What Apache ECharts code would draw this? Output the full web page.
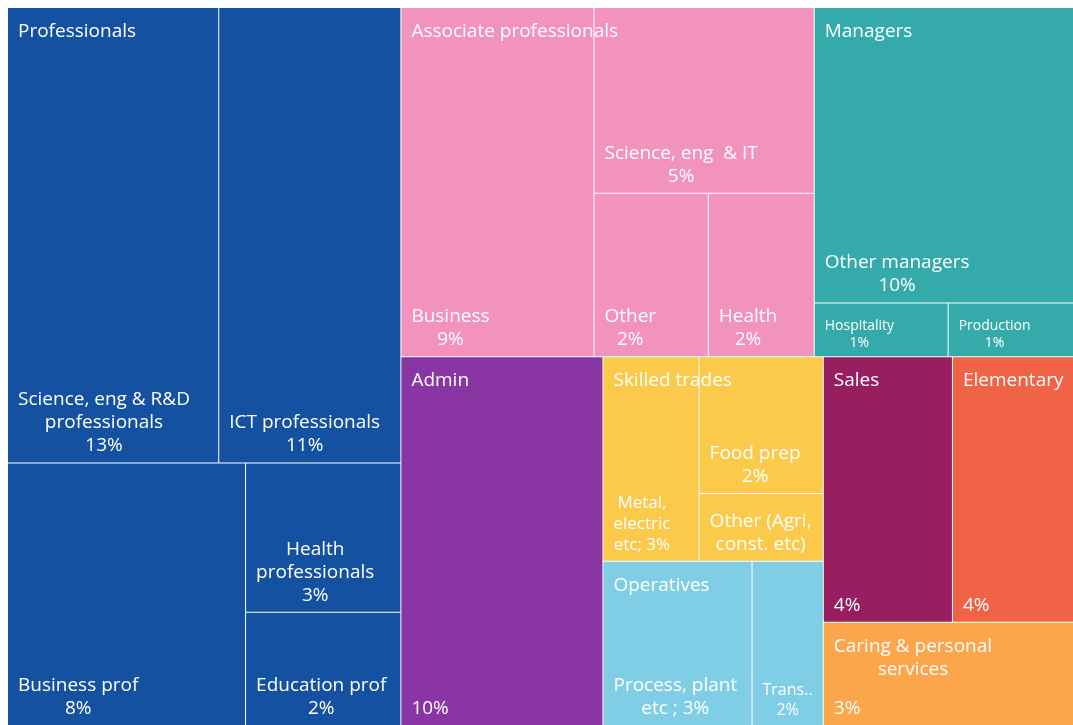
<!DOCTYPE html>
<html lang="en">
<head>
<meta charset="utf-8">
<title>Jobs by occupation</title>
<script src="https://cdn.jsdelivr.net/npm/echarts@6.0.0/dist/echarts.min.js"></script>
<style>
  html, body { margin: 0; padding: 0; background: #fff; }
  #chart { width: 1073px; height: 725px; }
</style>
</head>
<body>
<div id="chart"></div>
<script>
// ---------- data
var groupNames = ["Professionals", "Associate professionals", "Managers", "Admin", "Skilled trades",
  "Operatives", "Sales", "Elementary", "Caring & personal services"];
// title as printed in the top left corner of each block
var groupTitles = ["Professionals", "Associate professionals", "Managers", "Admin", "Skilled trades",
  "Operatives", "Sales", "Elementary", "Caring & personal\nservices"];

var jobNames = [
  "Science, eng & R&D professionals", "ICT professionals", "Business prof", "Health professionals", "Education prof",
  "Business", "Science, eng & IT", "Other", "Health",
  "Other managers", "Hospitality", "Production",
  "Admin",
  "Metal, electric etc", "Food prep", "Other (Agri, const. etc)",
  "Process, plant etc", "Transport",
  "Sales", "Elementary", "Caring & personal services"
];
var jobGroup = [0, 0, 0, 0, 0, 1, 1, 1, 1, 2, 2, 2, 3, 4, 4, 4, 5, 5, 6, 7, 8];
// share of all jobs, %
var jobShare = [12.57, 10.84, 8.17, 3.03, 2.30, 8.81, 5.35, 2.44, 2.26, 10.01, 0.94, 0.88,
  9.74, 2.57, 2.22, 1.10, 3.20, 1.53, 4.48, 4.20, 3.38];
// cell text, {p} = rounded share
var jobLabels = [
  "Science, eng & R&D\nprofessionals\n{p}%", "ICT professionals\n{p}%", "Business prof\n{p}%",
  "Health\nprofessionals\n{p}%", "Education prof\n{p}%",
  "Business\n{p}%", "Science, eng  & IT\n{p}%", "Other\n{p}%", "Health\n{p}%",
  "Other managers\n{p}%", "Hospitality\n{p}%", "Production\n{p}%",
  "{p}%",
  "Metal,\nelectric\netc; {p}%", "Food prep\n{p}%", "Other (Agri,\nconst. etc)",
  "Process, plant\netc ; {p}%", "Trans..\n{p}%",
  "{p}%", "{p}%", "{p}%"
];

// ---------- style
var groupColors = ["#1451a1", "#f293bd", "#35aaab", "#8935a4", "#fbca4b", "#80cde6", "#971f60", "#f16346", "#fba64b"];
// squarify ratio for the split of the blocks, then for each block
var topRatio = 1.115;
var groupRatio = [1.5, 1, 1, 1, 0.8, 1, 1, 1, 1];
var FONT = '"Open Sans", sans-serif';
var BIG = 19;
var smallSize = { "Hospitality": 14, "Production": 14, "Metal, electric etc": 17, "Transport": 16 };

var chart = echarts.init(document.getElementById("chart"));

var measure = document.createElement("canvas").getContext("2d");
function widest(text, size) {
  measure.font = size + 'px "Open Sans"';
  var w = 0;
  text.split("\n").forEach(function (s) {
    w = Math.max(w, measure.measureText(s).width);
  });
  return w;
}

// lines centred on each other, the block sits in a corner of its cell
function cornerLabel(text, size, top) {
  return {
    show: true,
    formatter: text,
    position: top ? "insideTopLeft" : "insideBottomLeft",
    distance: 0,
    padding: 0,
    align: "center",
    verticalAlign: top ? "top" : "bottom",
    offset: [10 + widest(text, size) / 2, top ? 12 : -5],
    color: "#fff",
    fontFamily: FONT,
    fontSize: size,
    lineHeight: Math.round(size * 1.22),
    overflow: "none"
  };
}

function groupTotal(g) {
  var s = 0;
  jobShare.forEach(function (v, i) {
    if (jobGroup[i] === g) s += v;
  });
  return s;
}

var clear = "rgba(0,0,0,0)";

// blocks only: transparent, carry the block titles, on top
var topSeries = {
  type: "treemap",
  id: "blocks",
  left: 8, top: 8, right: 0, bottom: 0,
  squareRatio: topRatio,
  roam: false,
  nodeClick: false,
  silent: true,
  z: 5,
  breadcrumb: { show: false },
  levels: [{ itemStyle: { borderWidth: 0, gapWidth: 1, borderColor: clear } }],
  data: groupNames.map(function (g, i) {
    return {
      name: g,
      value: groupTotal(i),
      itemStyle: { color: clear, borderColor: clear, borderWidth: 0 },
      label: cornerLabel(groupTitles[i], BIG, true)
    };
  })
};

chart.setOption({ animation: false, series: [topSeries] });

// where the library put each block
var blockRect = {};
var tree = chart.getModel().getSeriesByIndex(0).getData().tree;
tree.root.children.forEach(function (node) {
  blockRect[node.name] = node.getLayout();
});

// one treemap per block, laid out inside the block's rect
var blockSeries = groupNames.map(function (g, gi) {
  var r = blockRect[g];
  var data = [];
  jobNames.forEach(function (name, i) {
    if (jobGroup[i] !== gi) return;
    var text = jobLabels[i].replace("{p}", Math.round(jobShare[i]));
    data.push({
      name: name,
      value: jobShare[i],
      itemStyle: { color: groupColors[gi], borderWidth: 0 },
      label: cornerLabel(text, smallSize[name] || BIG, false)
    });
  });
  return {
    type: "treemap",
    left: 8 + r.x, top: 8 + r.y, width: r.width, height: r.height,
    squareRatio: groupRatio[gi],
    roam: false,
    nodeClick: false,
    silent: true,
    breadcrumb: { show: false },
    levels: [{ itemStyle: { borderWidth: 0, gapWidth: 1, borderColor: "#fff" } }],
    data: data
  };
});

chart.setOption({ series: [topSeries].concat(blockSeries) });
</script>
</body>
</html>
